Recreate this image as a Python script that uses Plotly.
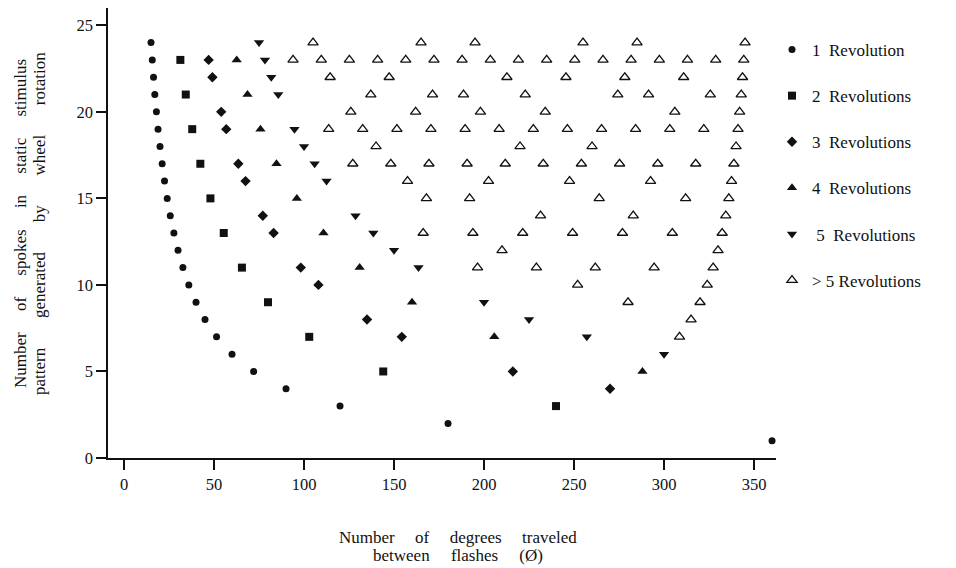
import plotly.graph_objects as go

# ---- data ----
rev1_x = [360, 180, 120, 90, 72, 60, 51.4, 45, 40, 36, 32.7, 30, 27.7, 25.7, 24, 22.5, 21.2, 20, 18.9, 18, 17.1, 16.4, 15.7, 15]
rev1_y = [1, 2, 3, 4, 5, 6, 7, 8, 9, 10, 11, 12, 13, 14, 15, 16, 17, 18, 19, 20, 21, 22, 23, 24]

rev2_x = [240, 144, 102.9, 80, 65.5, 55.4, 48, 42.4, 37.9, 34.3, 31.3]
rev2_y = [3, 5, 7, 9, 11, 13, 15, 17, 19, 21, 23]

rev3_x = [270, 216, 154.3, 135, 108, 98.2, 83.1, 77.1, 67.5, 63.5, 56.8, 54, 49.1, 47.0]
rev3_y = [4, 5, 7, 8, 10, 11, 13, 14, 16, 17, 19, 20, 22, 23]

rev4_x = [288, 205.7, 160, 130.9, 110.8, 96, 84.7, 75.8, 68.6, 62.6]
rev4_y = [5, 7, 9, 11, 13, 15, 17, 19, 21, 23]

rev5_x = [300, 257.1, 225, 200, 163.6, 150, 138.5, 128.6, 112.5, 105.9, 100, 94.7, 85.7, 81.8, 78.3, 75]
rev5_y = [6, 7, 8, 9, 11, 12, 13, 14, 16, 17, 18, 19, 21, 22, 23, 24]

more_x = [
    308.6,
    315,
    280, 320,
    252, 324,
    196.4, 229.1, 261.8, 294.5, 327.3,
    210, 330,
    166.2, 193.8, 221.5, 249.2, 276.9, 304.6, 332.3,
    231.4, 282.9, 334.3,
    168, 192, 264, 312, 336,
    157.5, 202.5, 247.5, 292.5, 337.5,
    127.1, 148.2, 169.4, 190.6, 211.8, 232.9, 254.1, 275.3, 296.5, 317.6, 338.8,
    140, 220, 260, 340,
    113.7, 132.6, 151.6, 170.5, 189.5, 208.4, 227.4, 246.3, 265.3, 284.2, 303.2, 322.1, 341.1,
    126, 162, 198, 234, 306, 342,
    137.1, 171.4, 188.6, 222.9, 274.3, 291.4, 325.7, 342.9,
    114.5, 147.3, 212.7, 245.5, 278.2, 310.9, 343.6,
    93.9, 109.6, 125.2, 140.9, 156.5, 172.2, 187.8, 203.5, 219.1, 234.8, 250.4, 266.1, 281.7, 297.4, 313.0, 328.7, 344.3,
    105, 165, 195, 255, 285, 345,
]
more_y = (
    [7] + [8] + [9] * 2 + [10] * 2 + [11] * 5 + [12] * 2 + [13] * 7 + [14] * 3 + [15] * 5
    + [16] * 5 + [17] * 11 + [18] * 4 + [19] * 13 + [20] * 6 + [21] * 8 + [22] * 7 + [23] * 17 + [24] * 6
)

series_names = ["1\u00a0 Revolution", "2\u00a0 Revolutions", "3\u00a0 Revolutions",
                "4\u00a0 Revolutions", "\u00a05\u00a0 Revolutions", "> 5 Revolutions"]
x_ticks = [0, 50, 100, 150, 200, 250, 300, 350]
y_ticks = [0, 5, 10, 15, 20, 25]

FONT = "Liberation Serif"
INK = "#111111"

W, H = 956, 568
L, R, T, B = 108, 180, 8, 110
PW, PH = W - L - R, H - T - B


def px_x(p):
    return (p - L) / PW


def px_y(p):
    return (H - B - p) / PH


fig = go.Figure()
styles = [
    (rev1_x, rev1_y, dict(symbol="circle", size=7, color=INK)),
    (rev2_x, rev2_y, dict(symbol="square", size=8, color=INK)),
    (rev3_x, rev3_y, dict(symbol="diamond", size=8, color=INK)),
    (rev4_x, rev4_y, dict(symbol="triangle-up", size=9, color=INK)),
    (rev5_x, rev5_y, dict(symbol="triangle-down", size=9, color=INK)),
    (more_x, more_y, dict(symbol="triangle-up-open", size=9, color=INK, line=dict(color=INK, width=1.3))),
]
for i, (xs, ys, mk) in enumerate(styles):
    fig.add_trace(go.Scatter(x=xs, y=ys, mode="markers", marker=mk, name=series_names[i],
                             legendgroup=f"g{i}", cliponaxis=False))

fig.update_layout(
    width=W, height=H,
    margin=dict(l=L, r=R, t=T, b=B, autoexpand=False),
    paper_bgcolor="white", plot_bgcolor="white",
    font=dict(family=FONT, size=16.5, color=INK),
    showlegend=True,
    legend=dict(x=px_x(772), xanchor="left", y=px_y(32), yanchor="top",
                font=dict(family=FONT, size=17, color=INK), tracegroupgap=21,
                bgcolor="rgba(0,0,0,0)"),
    xaxis=dict(range=[-8.9, 362.2], tickvals=x_ticks, showgrid=False, zeroline=False,
               showline=True, linecolor=INK, linewidth=1.5, ticks="outside", ticklen=10,
               tickwidth=1.5, tickcolor=INK, tickfont=dict(size=16.5)),
    yaxis=dict(range=[0, 26], tickvals=y_ticks, showgrid=False, zeroline=False,
               showline=True, linecolor=INK, linewidth=1.5, ticks="outside", ticklen=10,
               tickwidth=1.5, tickcolor=INK, tickfont=dict(size=16.5)),
)

sp_a = "\u00a0" * 4 + "\u2009"
sp_b = "\u00a0" * 5
for text, yy in [(f"Number{sp_a}of{sp_a}degrees{sp_a}traveled", 537),
                 (f"between{sp_b}flashes{sp_b}(Ø)", 555)]:
    fig.add_annotation(
        xref="paper", yref="paper", x=px_x(458), y=px_y(yy),
        xanchor="center", yanchor="middle", showarrow=False,
        text=text, font=dict(family=FONT, size=17, color=INK),
    )

sp1 = "\u00a0" * 5
sp2 = "\u00a0" * 7
for text, xx in [(f"Number{sp1}of{sp1}spokes{sp1}in{sp1}static{sp1}stimulus", 20),
                 (f"pattern{sp2}generated{sp2}by{sp2}wheel{sp2}rotation", 39)]:
    fig.add_annotation(
        xref="paper", yref="paper", x=px_x(xx), y=px_y(224),
        xanchor="center", yanchor="middle", showarrow=False, textangle=-90,
        text=text, font=dict(family=FONT, size=17, color=INK),
    )

fig.write_html("out.html", config={"displayModeBar": False},
               post_script="document.body.style.margin='0';document.body.style.overflow='hidden';")
